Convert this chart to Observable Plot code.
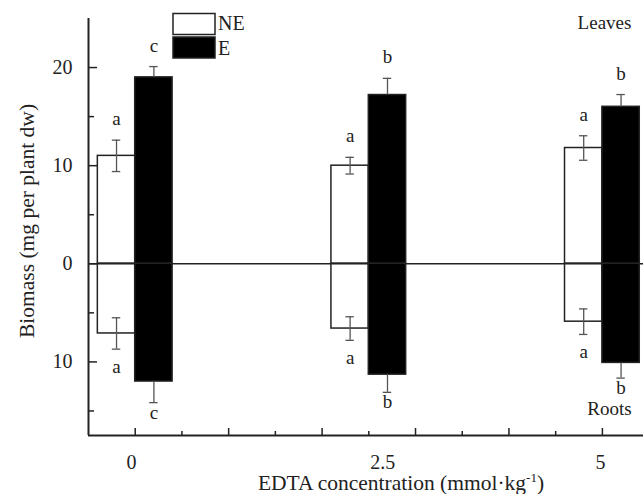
<!DOCTYPE html>
<html>
<head>
<meta charset="utf-8">
<script src="https://cdn.jsdelivr.net/npm/d3@7"></script>
<script src="https://cdn.jsdelivr.net/npm/@observablehq/plot@0.6"></script>
<style>
  html, body { margin: 0; padding: 0; background: #fff; }
  #chart svg { display: block; }
  #chart svg text, #chart svg tspan { font-family: "Liberation Serif", "DejaVu Serif", serif !important; }
</style>
</head>
<body>
<div id="chart"></div>
<script>
// ---- data ----
const edta = [0, 2.5, 5];
const tickLabels = ["0", "2.5", "5"];
const tickLabelPos = [-0.04, 2.65, 4.98];
const series = ["NE", "E"];

const leavesNE = [11.0, 10.0, 11.8];
const leavesNEerr = [1.6, 0.85, 1.25];
const leavesE = [19.0, 17.2, 16.0];
const leavesEerr = [1.1, 1.7, 1.25];

const rootsNE = [7.1, 6.6, 5.9];
const rootsNEerr = [1.6, 1.2, 1.3];
const rootsE = [12.0, 11.3, 10.1];
const rootsEerr = [2.15, 1.8, 1.55];

const leavesNEsig = ["a", "a", "a"];
const leavesEsig = ["c", "b", "b"];
const rootsNEsig = ["a", "a", "a"];
const rootsEsig = ["c", "b", "b"];

const yMajor = [-10, 0, 10, 20];
const yMinor = [-15, -5, 5, 15];
const xMajor = [0, 1, 2, 3, 4, 5];
const xMinor = [0.5, 1.5, 2.5, 3.5, 4.5];

// ---- build table ----
const rows = [];
edta.forEach((g, i) => {
  rows.push({g, s: "NE", organ: "leaves", v: leavesNE[i], e: leavesNEerr[i], sig: leavesNEsig[i]});
  rows.push({g, s: "E", organ: "leaves", v: leavesE[i], e: leavesEerr[i], sig: leavesEsig[i]});
  rows.push({g, s: "NE", organ: "roots", v: -rootsNE[i], e: rootsNEerr[i], sig: rootsNEsig[i]});
  rows.push({g, s: "E", organ: "roots", v: -rootsE[i], e: rootsEerr[i], sig: rootsEsig[i]});
});
const barW = 0.4;
const x1 = d => d.s === "NE" ? d.g - barW : d.g;
const x2 = d => d.s === "NE" ? d.g : d.g + barW;
const xc = d => (x1(d) + x2(d)) / 2;
const sgn = d => d.organ === "leaves" ? 1 : -1;
const eLo = d => d.s === "NE" ? d.v - d.e : d.v;
const eHi = d => d.s === "NE" ? d.v + d.e : d.v + sgn(d) * d.e;
const caps = [];
rows.forEach(d => {
  if (d.s === "NE") { caps.push({x: xc(d), y: d.v - d.e}); caps.push({x: xc(d), y: d.v + d.e}); }
  else caps.push({x: xc(d), y: d.v + sgn(d) * d.e});
});
const tip = d => d.v + sgn(d) * d.e;

const W = 643, H = 494;
const mL = 88, mR = 0, mT = 18, mB = 59;
const plotW = W - mL - mR, plotH = H - mT - mB;
const capHalf = 0.045;
const ink = "#222";
const FF = "Liberation Serif";

const chart = Plot.plot({
  width: W,
  height: H,
  marginLeft: mL,
  marginRight: mR,
  marginTop: mT,
  marginBottom: mB,
  style: {fontFamily: FF, fontSize: "19px", background: "#fff", color: ink},
  x: {type: "linear", domain: [-0.5, 5.44], axis: null},
  y: {domain: [-17.5, 25], axis: null},
  marks: [
    // white bars
    Plot.rect(rows.filter(d => d.s === "NE"), {
      x1, x2, y1: 0, y2: "v", fill: "#fff", stroke: ink, strokeWidth: 1.5
    }),
    // zero line (hidden behind the black bars)
    Plot.ruleY([0], {stroke: ink, strokeWidth: 1.5}),
    // black bars
    Plot.rect(rows.filter(d => d.s === "E"), {
      x1, x2, y1: 0, y2: "v", fill: "#000", stroke: ink, strokeWidth: 1.5
    }),
    // error bars
    Plot.ruleX(rows, {x: xc, y1: eLo, y2: eHi, stroke: "#555", strokeWidth: 1.3}),
    Plot.ruleY(caps, {y: "y", x1: d => d.x - capHalf, x2: d => d.x + capHalf, stroke: "#555", strokeWidth: 1.3}),
    // significance letters
    Plot.text(rows.filter(d => d.organ === "leaves"), {
      x: xc, y: tip, text: "sig", dy: -15, lineAnchor: "bottom", fontSize: 19, fontFamily: FF, fill: ink
    }),
    Plot.text(rows.filter(d => d.organ === "roots" && d.s === "NE"), {
      x: xc, y: tip, text: "sig", dy: 24, lineAnchor: "bottom", fontSize: 19, fontFamily: FF, fill: ink
    }),
    Plot.text(rows.filter(d => d.organ === "roots" && d.s === "E"), {
      x: xc, y: tip, text: "sig", dy: 16, lineAnchor: "bottom", fontSize: 19, fontFamily: FF, fill: ink
    }),
    // axis lines
    Plot.ruleX([-0.5], {stroke: ink, strokeWidth: 2}),
    Plot.ruleY([-17.5], {stroke: ink, strokeWidth: 2}),
    // y ticks (inward)
    Plot.ruleY(yMajor, {insetRight: plotW - 9, stroke: ink, strokeWidth: 1.5}),
    Plot.ruleY(yMinor, {insetRight: plotW - 6, stroke: ink, strokeWidth: 1.5}),
    // x ticks (inward)
    Plot.ruleX(xMajor, {insetTop: plotH - 7, stroke: ink, strokeWidth: 1.5}),
    Plot.ruleX(xMinor, {insetTop: plotH - 4, stroke: ink, strokeWidth: 1.5}),
    // y tick labels
    Plot.text(yMajor, {y: d => d, text: d => String(Math.abs(d)), frameAnchor: "left", textAnchor: "end", dx: -16, fontSize: 20, fontFamily: FF, fill: ink}),
    // x tick labels
    Plot.text(tickLabelPos, {x: d => d, text: (d, i) => tickLabels[i], frameAnchor: "bottom", dy: 33, lineAnchor: "bottom", fontSize: 20, fontFamily: FF, fill: ink}),
    // panel labels
    Plot.text(["Leaves"], {text: d => d, frameAnchor: "top-right", textAnchor: "middle", lineAnchor: "bottom", dx: -39, dy: 10, fontSize: 19, fontFamily: FF, fill: ink}),
    Plot.text(["Roots"], {text: d => d, frameAnchor: "bottom-right", textAnchor: "middle", lineAnchor: "bottom", dx: -34, dy: -21, fontSize: 19, fontFamily: FF, fill: ink}),
    // y title
    Plot.text(["Biomass (mg per plant dw)"], {text: d => d, frameAnchor: "left", rotate: -90, textAnchor: "middle", lineAnchor: "bottom", dx: -55, dy: -6, fontSize: 21.5, fontFamily: FF, fill: ink})
  ]
});

const svg = d3.select(chart);
// x title with superscript
const xt = svg.append("text")
  .attr("x", 401).attr("y", 490)
  .attr("text-anchor", "middle")
  .attr("font-family", FF)
  .attr("font-size", 21.5)
  .attr("fill", ink);
xt.append("tspan").text("EDTA concentration (mmol·kg");
xt.append("tspan").attr("dy", -8).attr("font-size", 13).text("-1");
xt.append("tspan").attr("dy", 8).text(")");

// legend
const leg = svg.append("g");
series.forEach((s, i) => {
  leg.append("rect")
    .attr("x", 173).attr("y", 13.5 + i * 23.5)
    .attr("width", 42).attr("height", 21)
    .attr("fill", s === "NE" ? "#fff" : "#000")
    .attr("stroke", ink).attr("stroke-width", 1.5);
  leg.append("text")
    .attr("x", 218).attr("y", 30 + i * 25)
    .attr("text-anchor", "start")
    .attr("font-family", FF)
    .attr("font-size", 20).attr("fill", ink)
    .text(s);
});

document.getElementById("chart").appendChild(chart);
</script>
</body>
</html>
